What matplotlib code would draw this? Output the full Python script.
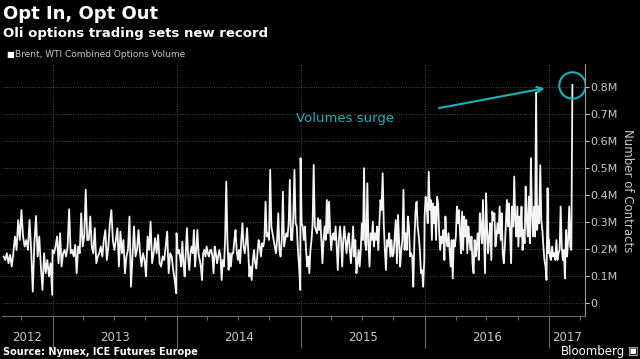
import matplotlib
matplotlib.use('Agg')
import matplotlib.pyplot as plt
import matplotlib.dates as mdates
import matplotlib.transforms as mtransforms
import numpy as np
import pandas as pd

# Brent + WTI combined options volume, thousands of contracts
vol_2012 = [172, 159, 184, 147, 178, 135, 184, 246, 196, 307, 233, 344, 246, 209, 233, 196,
            307, 196, 42, 221, 322, 172, 246, 135, 48, 184, 110, 159, 98, 147, 30]
vol_2013 = [196, 184, 209, 246, 147, 258, 135, 184, 196, 172, 209, 347, 184, 196, 172, 215,
            110, 209, 184, 332, 209, 246, 419, 233, 233, 320, 209, 184, 277, 147, 172, 184,
            209, 172, 233, 270, 159, 209, 295, 344, 233, 196, 233,
            277, 135, 264, 184, 233, 110, 172, 196, 320, 60, 172, 283, 172, 196, 270, 184,
            135, 184, 159, 98, 246, 196, 301, 147, 184, 240, 184, 252, 147, 135, 172, 159,
            209, 264, 110, 184, 172, 122, 85, 36]
vol_2014 = [258, 184, 196, 172, 135, 227, 147, 98, 184, 277, 172, 122, 184, 209, 184, 270,
            135, 196, 270, 184, 159, 135, 85, 184, 196, 172, 209, 184, 172, 196, 196, 172,
            110, 209, 184, 147, 172, 196, 172, 85, 159, 135, 233, 449, 233, 122, 184,
            135, 184, 184, 233, 270, 196, 159, 196, 147, 233, 295, 209, 184, 221, 277, 196,
            98, 135, 85, 159, 196, 147, 128, 184, 233, 209, 172, 221, 209, 233, 375, 246,
            258, 233, 493, 283, 258, 233, 209, 184, 233, 332, 196, 172, 233, 412, 209, 233,
            258, 246, 295, 456, 233, 233, 320, 493, 295, 283, 196, 135, 48]
vol_2015 = [536, 295, 283, 233, 283, 196, 135, 172, 110, 196, 233, 295, 511, 283, 270, 258,
            314, 270, 307, 233, 147, 233, 283, 233, 381, 258, 375, 270, 196, 246, 258, 233,
            283, 209, 122, 233, 283, 233, 135, 233, 283, 233, 184, 233, 258, 196, 147, 209,
            283, 172, 233, 110, 147, 196, 135, 196, 295, 233, 499, 221, 196, 443, 221, 135,
            258, 233, 301, 209, 258, 233, 283, 196, 295, 381, 344, 480, 295, 196, 122, 233,
            209, 258, 172, 233, 172, 184, 246, 307, 147, 326, 233, 135, 196, 233, 419, 196,
            258, 196, 320, 283, 172, 184, 172, 60, 233, 338, 375, 283, 246, 196, 110, 122,
            60, 159]
vol_2016 = [320, 393, 357, 295, 486, 344, 381, 233, 369, 295, 357, 233, 393, 369, 258, 196,
            246, 221, 270, 159, 320, 233, 209, 258, 196, 135, 233, 91, 233, 209, 246, 357,
            295, 344, 258, 184, 338, 196, 320,
            246, 307, 184, 283, 233, 196, 246, 147, 110, 233, 172, 209, 258, 159, 332, 283,
            221, 381, 246, 110, 406, 270, 184, 246, 295, 159, 338, 307, 332, 209, 246, 295,
            258, 357, 233, 332, 184, 147, 209, 295, 381, 283, 369, 258, 147, 357, 283, 468,
            307, 246, 357, 209, 320, 246, 357, 196, 270, 221, 431, 307, 246, 394, 221, 536,
            332, 246, 357, 246, 780, 270, 357, 295, 510, 307, 270, 209, 159, 135, 85, 425, 184]
vol_2017 = [233, 172, 159, 209, 172, 184, 159, 233, 159, 184, 196, 357, 209, 159, 196, 91,
            270, 172, 233, 357, 209, 196, 807]

year_spans = [('2012-08-10', '2012-12-31', vol_2012),
              ('2013-01-01', '2013-12-31', vol_2013),
              ('2014-01-01', '2014-12-31', vol_2014),
              ('2015-01-01', '2015-12-31', vol_2015),
              ('2016-01-01', '2016-12-31', vol_2016),
              ('2017-01-01', '2017-03-11', vol_2017)]

dates = pd.DatetimeIndex(np.concatenate(
    [pd.date_range(s, e, periods=len(v)).values for s, e, v in year_spans]))
volume = np.concatenate([v for _, _, v in year_spans]) / 1000.0  # millions

years = [2012, 2013, 2014, 2015, 2016, 2017]
y_ticks = [0, 0.1, 0.2, 0.3, 0.4, 0.5, 0.6, 0.7, 0.8]
y_labels = ['0', '0.1M', '0.2M', '0.3M', '0.4M', '0.5M', '0.6M', '0.7M', '0.8M']

teal = '#17b3b5'
grey = '#c8c8c8'

fig = plt.figure(figsize=(6.4, 3.59), dpi=100, facecolor='black')
ax = fig.add_axes([0.003, 0.12, 0.911, 0.702], facecolor='black')

ax.plot(dates, volume, color='#f4f4f4', lw=1.3)

x0 = pd.Timestamp('2012-08-05')
x1 = pd.Timestamp('2017-04-17')
ax.set_xlim(x0, x1)
ax.set_ylim(-0.048, 0.885)

# y axis on the right
ax.yaxis.tick_right()
ax.set_yticks(y_ticks)
ax.set_yticklabels(y_labels)
ax.tick_params(axis='y', colors=grey, labelsize=8, length=3, width=0.8, pad=1)
for s in ['left', 'top']:
    ax.spines[s].set_visible(False)
ax.spines['right'].set_color('#9a9a9a')
ax.spines['bottom'].set_color('#6a6a6a')

# x axis: long year separators, short quarter ticks, labels in between
ax.xaxis.set_major_locator(mdates.YearLocator())
ax.xaxis.set_minor_locator(mdates.MonthLocator(bymonth=[4, 7, 10]))
ax.xaxis.set_major_formatter(plt.NullFormatter())
ax.tick_params(axis='x', which='major', length=23, width=0.8, color='#6a6a6a')
ax.tick_params(axis='x', which='minor', length=3, width=0.8, color='#6a6a6a')

ax.grid(axis='y', color='#4a4a4a', ls=(0, (1, 1.5)), lw=0.7)
ax.grid(axis='x', which='major', color='#4a4a4a', ls=(0, (1, 1.5)), lw=0.7)

trans = mtransforms.blended_transform_factory(ax.transData, ax.transAxes)
for yr in years:
    lo = max(pd.Timestamp(f'{yr}-01-01'), x0)
    hi = min(pd.Timestamp(f'{yr + 1}-01-01'), x1)
    mid = lo + (hi - lo) / 2
    ax.text(mid, -0.085, str(yr), transform=trans, ha='center', va='center',
            color=grey, fontsize=8.5)

# annotation around the record spike
peak_x = mdates.date2num(dates[-1])
peak_y = volume[-1]
ax.plot([peak_x], [peak_y], marker='o', ms=19, mfc='none', mec=teal, mew=1.5)
arrow_end = mtransforms.offset_copy(ax.transData, fig=fig, x=-18, y=-2, units='points')
ax.annotate('', xy=(peak_x, peak_y), xycoords=arrow_end,
            xytext=(-80, -15), textcoords='offset points',
            arrowprops=dict(arrowstyle='->', color=teal, lw=1.5))
ax.annotate('Volumes surge', xy=(peak_x, peak_y), xytext=(-164, -24),
            textcoords='offset points', ha='center', va='center',
            color=teal, fontsize=9.5)

fig.text(0.981, 0.47, 'Number of Contracts', rotation=-90, color=grey,
         fontsize=8.5, ha='center', va='center')

fig.text(0.004, 0.96, 'Opt In, Opt Out', color='white', fontsize=13,
         weight='bold', va='center')
fig.text(0.004, 0.907, 'Oli options trading sets new record', color='white',
         fontsize=9.5, weight='bold', va='center')
fig.text(0.009, 0.849, '\u25A0', color='white', fontsize=6, va='center')
fig.text(0.024, 0.849, 'Brent, WTI Combined Options Volume', color=grey,
         fontsize=6.5, va='center')
fig.text(0.005, 0.02, 'Source: Nymex, ICE Futures Europe', color='white',
         fontsize=7, weight='bold', va='center')
fig.text(0.976, 0.022, 'Bloomberg', color='white', fontsize=8.5,
         ha='right', va='center')
fig.text(0.981, 0.022, '\u25A3', color='white', fontsize=8, va='center')

fig.savefig('out.png', dpi=100, facecolor='black')
